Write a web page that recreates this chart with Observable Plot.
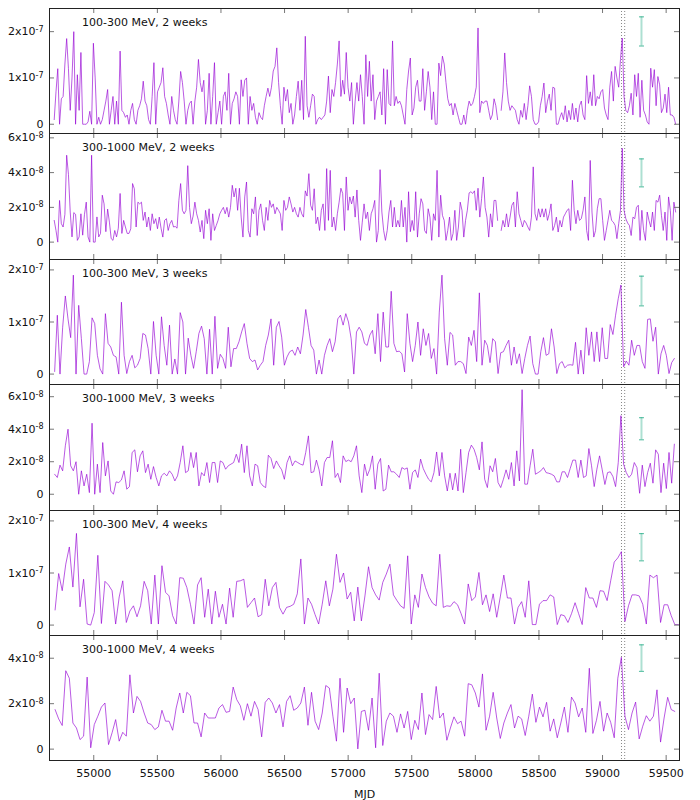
<!DOCTYPE html>
<html><head><meta charset="utf-8">
<script src="https://cdn.jsdelivr.net/npm/d3@7"></script>
<script src="https://cdn.jsdelivr.net/npm/@observablehq/plot@0.6"></script>
<style>
html,body{margin:0;padding:0;background:#fff;}
#chart{width:700px;}
#chart svg{display:block;overflow:visible;background:none;}
</style></head><body><div id="chart"></div>
<script>
// ---- data ----
const labels = ["100-300 MeV, 2 weeks","300-1000 MeV, 2 weeks","100-300 MeV, 3 weeks","300-1000 MeV, 3 weeks","100-300 MeV, 4 weeks","300-1000 MeV, 4 weeks"];
const binStart = [54689, 54689, 54692.5, 54692.5, 54696, 54696]; // MJD of first bin centre
const binDays = [14, 14, 21, 21, 28, 28];
const exponents = [-7, -8, -7, -8, -7, -8]; // flux unit 10^exp
const yTickSets = [[0,1,2],[0,2,4,6],[0,1,2],[0,2,4,6],[0,1,2],[0,2,4]];
const xTicks = [55000,55500,56000,56500,57000,57500,58000,58500,59000,59500];
const markerMJD = [59149, 59174];
const errMJD = 59306;
const errLo = [1.69, 3.18, 1.31, 3.35, 1.234, 3.42];
const errHi = [2.32, 4.79, 1.88, 4.71, 1.757, 4.59];

// flux in units of 1e-7 (100-300 MeV) or 1e-8 (300-1000 MeV); null = no data
const soft2w = [
0.1,0.7,1.2,0,0.55,0.6,1.3,1.85,1.2,0.3, 1.0,2.0,0,1.07,0.3,1.55,0,0,0,0.05,
0.28,0,1.75,1.0,0,0.15,0,0.1,0.3,0.5, 0.75,0,0.3,0.6,0,0.5,0,1.58,0.3,0.25,
0.15,0.2,0,0.3,0.45,0.1,0,0.3,0.4,0.55, 0.93,0.5,0.4,0.1,0,0.6,1.33,0,0.7,0.8,
0.9,1.22,0.6,0.45,0.2,0,0.6,0.3,0.1,0, 0.5,1.14,0.9,0.5,0,0.3,0.45,0.5,0,0.5,
0.8,1.4,0.9,0.7,0.95,0,0.3,1.1,0,0.6, 1.33,0,0.25,0.5,0,0.6,0.7,0.3,1.1,0,
0.45,0.55,0.7,0.6,0,0.96,0.6,0.95,1.0,0, 0.6,0.3,0.45,0.15,0,0.25,0.15,0.1,0.4,0.6,
0.78,0.6,0.8,1.15,1.25,1.65,0.9,0.4,0,0.8, 0.5,0.75,0.25,0.45,0,0.2,0.6,0.93,0.3,0.95,
0.1,1.9,0.4,0.15,0.4,0.65,0.6,0,0.1,0.15, 0.1,0.15,0.2,0.5,1.04,0.25,0.75,0.6,0.9,1.3,
1.8,0.6,0.95,0.65,1.55,0.8,0.5,0.9,0,0.5, 0.9,0.5,
1.07,0.6,0,1.5,0.6,1.36,0.5,1.07,
0.1,0.5,0.6,0.7,0.2,1.2,0,1.18,0.45,0.4, 1.8,0.4,0.6,0.45,0.5,0.4,0.2,0,0.75,1.15,
1.43,0.2,0.35,0.8,0.95,0.5,0.5,1.2,0.3,0.7, 1.14,0.8,0.1,0.7,0,0,1.32,1.05,1.47,1.3,
0.9,0.55,0.4,0.45,0.2,0.45,0.3,0.15,0,0, 0.2,0,0.3,0.5,0.4,0.45,0.6,0.8,2.08,0.25,
0.5,0.45,0.5,0.5,0.3,0.1,0.2,0.55,0.4,0.1, null,0.3,0.7,1.54,0.9,0.5,0.3,0.4,0.35,0.3,
0.1,0,0.3,0.15,0.45,0.1,0.4,0.83,0.6,0.1, 0,0,0.05,0.4,0.6,0.89,0.25,0.5,0.65,0.3,
0.8,0.78,0,0,0.15,0.25,0.1,0.4,0.05,0.3, 0.1,0.45,0.1,0.35,0.05,0.4,0.5,0.2,0.1,1.05,
0.45,0.7,0.4,1.07,0.4,0.6,0.55,0.7,0.75,0.35, 0.2,0.1,0.8,1.14,0.5,1.25,1.0,0.8,1.4,1.86,
0.6,0.3,0.25,0.4,0.67,0.2,1.07,0.6,1.1,0.15, 0.95,0.3,0.2,0.05,0,1.21,0.8,1.18,0.4,1.03,
0.85,0.25,0.35,0.65,0.25,0.8,0.2,0.2,0.15,0];

const hard2w = [
1.25,0.67,0,2.4,1.06,0.87,1.6,5.0,3.9,1.73, 0.3,1.7,1.6,0.1,0.3,1.63,0.4,1.6,2.3,0.3,
0,5.0,0,0,1.45,0.3,0.5,2.7,2.2,0.6, 1.9,1.15,0.2,0.1,0.67,0.3,0.8,2.8,0.5,1.25,
0.87,0.5,0.5,0.77,3.37,3.07,0.87,2.3,2.2,2.3, 1.25,1.73,0.87,1.44,0.67,1.63,1.06,1.35,0.77,1.44,
0.8,0.29,1.25,1.35,0.67,1.06,1.25,0.87,0.9,0.8, 2.4,3.37,1.83,1.63,1.83,4.4,2.0,1.06,1.5,2.3,
1.63,1.25,0.58,1.25,0.2,1.83,1.06,1.92,0.1,1.63, 0.67,0.96,1.25,1.63,1.83,2.0,1.63,2.0,1.44,2.0,
3.27,2.6,3.1,1.83,3.1,1.44,0.29,2.6,3.46,0.67, 0.29,1.92,1.63,2.6,0.38,1.83,2.2,1.25,0.67,2.0,
1.25,2.4,2.0,2.2,1.63,2.0,1.83,1.63,0.67,2.4, 1.83,2.0,2.6,2.2,1.73,2.0,1.63,1.44,2.0,1.63,
1.44,2.95,2.65,3.94,2.12,1.83,3.07,1.06,1.44,0.67, 1.83,2.2,0.67,4.23,1.25,4.13,0.87,1.44,0.67,1.63,
2.3,3.1,2.8,0.67,3.75,1.83,2.6,2.2,2.65,1.44, 3.0,1.25,
0.1,1.15,2.2,1.35,1.73,0.67,1.63,1.92,
2.4,0,0.67,4.17,1.73,0.67,0.1,0.67,1.73,2.4, 0.87,2.0,0.87,1.25,0.87,2.4,0.87,2.0,0,2.9,
0.6,1.25,0.67,2.9,0.29,1.63,2.5,2.2,0.67,0.5, 1.92,1.44,0.1,1.63,1.25,4.13,0.29,2.7,1.54,1.25,
0.1,0.67,1.44,0.1,0.5,1.83,0.1,0.87,2.3,1.83, 0.29,1.25,1.83,2.83,2.9,2.8,2.95,1.83,3.1,1.44,
2.5,3.75,2.0,1.44,0.29,1.63,0.87,2.4,2.4,1.25, null,0.67,1.25,0.87,1.63,0.87,1.44,2.12,2.3,0.87,
2.9,1.63,1.25,0.87,1.25,1.1,0.87,0.67,1.44,4.33, 1.63,1.25,1.92,1.44,1.92,1.44,1.92,1.25,1.63,2.2,
0.67,0.96,1.44,0.58,1.25,0.87,1.44,1.63,1.83,1.92, 0.67,3.56,1.83,1.06,1.83,1.25,1.35,1.83,2.6,0.67,
0.1,4.7,1.73,0.29,0.67,1.92,2.5,2.5,1.25,0.1, 0.67,1.25,1.83,1.25,1.15,0.96,0.2,1.06,1.83,5.4,
1.83,1.35,1.1,0.96,0.38,1.44,1.35,2.0,2.12,0.1, 1.83,0.67,0.1,1.73,1.25,0.87,1.73,0.67,2.4,2.3,
2.7,1.54,0.67,1.73,0.1,2.6,1.83,0.1,2.3,1.73];

const soft3w = [
0.05,1.13,0,0.9,1.5,1.06,0.7,1.9,0,1.32, 0.68,0,0,0.24,1.08,0.97,0.36,0.1,0,1.16,
0.59,0.52,0.36,0.33,0,1.38,0.36,0.01,0.24,0.36, 0.12,0.17,0.3,0.78,0.75,0.49,0,1.01,0.36,0,
1.1,0.55,0.17,0.94,0,0.29,0,1.18,1.0,0, 0.69,0.36,0.11,0.43,0.78,0.92,0.68,0,0.86,0,
1.11,0.11,0.38,0.3,0.11,0.9,0.14,0.49,0.49,0.62, 0.81,0.97,0.59,0.3,0.24,0.27,0.08,0.17,0.24,0.55,
0.75,1.06,0.17,0.9,1.01,0.71,0.17,0.33,0.43,0.46, 0.36,0.52,0.39,0.75,1.24,0.9,0.55,0.46,0,0.27,
0,0.36,0.55,0.68,0.43,0.62,1.06,1.13,0.94,1.16, 1.0,0.68,0,0.81,0.9,
0.81,0.59,0.55,0.75,0.84,0.39,1.16,0.24,1.19,0.52, 0.52,1.59,0.59,0.43,0.44,0.39,0.04,1.16,0.59,0.24,
0.55,1.0,0.36,0.87,0.55,0.78,0.3,0.49,0,1.19, 1.9,0.68,0.17,0.8,0.75,0.17,0.24,0.24,0.2,0.01,
0.71,0.55,0.84,0.24,1.56,0.17,0.65,0.55,0.22,0.68, 0.62,0.01,0.41,0.43,0.55,0.65,0.17,0.52,0.2,0.39,
0.01,0.3,0.55,0.73,0.2,0,0,0.43,0.7,0.36, 0.39,0.87,0.52,0.01,0.2,0.24,0.12,0.17,0.18,0.17,
0.61,0,0.46,0,0.89,0.36,0.81,0.24,0.81,0.24, 0.89,0.3,0.3,0.95,0.76,1.13,1.45,1.71,0.14,0.25,
0.17,0.65,0.36,0.55,0.55,0.24,0.11,1.05,1.06,0.63, 0.9,0,0.39,0.55,0.36,0.01,0.22,0.3];

const hard3w = [
1.23,1.03,1.79,1.44,2.98,4.0,1.75,1.44,2.0,0, 1.44,0.51,1.23,0.1,4.37,0,1.85,0.1,3.18,1.13,
2.05,0.2,0,0.76,0.72,0.88,1.44,0.31,0.47,2.57, 2.73,1.38,2.36,2.67,1.33,1.85,0.92,1.7,1.03,0.51,
1.13,1.29,1.13,1.44,1.23,0.82,1.13,1.95,2.98,1.33, 1.44,2.57,1.64,2.57,0.51,1.33,1.13,1.95,0.72,1.95,
1.95,0.72,2.05,1.95,1.54,1.75,1.85,1.95,2.46,1.95, 3.08,1.33,2.98,1.13,0.51,1.85,1.75,0.72,0.51,0.41,
2.4,2.2,1.58,2.05,1.75,1.5,0.92,1.95,2.36,1.75, 2.05,1.95,1.85,1.79,2.57,3.59,1.33,1.38,2.1,1.5,
0.51,1.95,2.26,2.26,3.29,1.03,1.29,0.72,2.36,2.01, 2.1,2.0,2.36,2.98,
1.13,0.1,1.85,1.13,1.54,2.36,0.31,1.85,2.2,0.2, 0.31,1.79,1.38,1.38,1.23,1.03,1.64,1.54,1.62,0.31,
1.33,1.5,1.03,2.16,1.58,1.23,0.92,0.76,1.33,2.6, 1.13,2.57,1.13,0.2,1.29,0.27,1.29,0.2,2.77,0.1,
1.33,2.57,3.02,2.77,2.26,1.5,3.22,0.92,0.41,1.75, 1.38,2.2,0.72,0.41,0.92,1.5,0.92,1.95,0.51,2.67,
0.82,6.43,0.62,0.62,1.75,2.77,1.23,1.33,1.44,1.64, 1.33,1.29,1.23,1.13,0.76,0.76,1.38,1.38,1.03,1.58,
2.1,2.1,1.03,2.1,1.03,1.13,2.81,1.75,0.47,1.54, 2.36,1.5,0.6,1.33,1.38,1.09,0.47,1.95,4.83,1.85,
1.33,1.03,1.23,1.95,1.64,0.06,1.79,0.47,1.33,1.91, 0.68,2.73,2.46,0.1,1.91,0.35,2.57,0.68,3.08];

const soft4w = [
0.29,0.99,0.66,1.17,1.5,0.73,1.76,0.35,0.88,0.02, 0,0.24,1.34,0.03,0.84,0.77,0.66,0.02,0.54,0.85,
0.05,0.27,0.37,0.16,0.37,0.84,0.66,0.02,0.96,0.02, 1.14,0.63,0.56,0.18,0.02,0.91,0.9,0.72,0.4,0.02,
0.77,0.91,0.15,0.69,0.02,0.65,0.15,0.4,0.02,0.71, 0.15,0.84,0.85,0.88,0.34,0.43,0.52,0.16,0.2,0.88,
0.37,0.72,0.82,0.34,0.21,0.34,0.36,0.4,0.6,1.27, 0.02,0.52,0.4,0.2,0.02,0.4,0.85,0.37,0.69,1.36,
0.82,1.0,0.5,0.63,0.08,0.73,
0.08,0.56,1.12,0.72,0.58,0.48,0.82,0.98,1.17,0.58, 0.47,0.37,0.32,1.33,0.02,0.58,0.34,0.98,0.72,0.54,
0.42,0.37,1.36,0.34,0.37,0.36,0.45,0.39,0.22,0.02, 0.79,0.47,0.54,1.01,0.39,0.58,0.26,0.6,0.15,0.54,
0.96,0.52,0.52,0.02,0.34,0.45,0.15,0.85,0.01,0.01, 0.4,0.47,0.47,0.58,0.54,0.01,0.2,0.18,0.05,0.22,
0.43,0.22,0.01,0.72,0.52,0.52,0.34,0.66,0.65,0.47, 0.85,1.21,1.29,1.41,0.07,0.37,0.58,0.58,0.56,0.4,
0.02,0.96,0.91,0.96,0.05,0.39,0.39,0.18,0.01,0.01];

const hard4w = [
1.74,1.33,1.04,3.45,3.12,1.15,0.93,0.42,0.57,3.17, 0.06,1.08,1.45,1.85,2.03,0.2,0.72,1.3,0.35,0.74,
0.57,3.27,1.59,2.32,2.1,1.59,1.15,1.08,0.86,0.98, 1.71,1.23,1.23,0.83,1.81,2.47,1.59,2.5,2.35,1.15,
1.15,0.54,1.59,1.37,1.37,1.37,1.81,1.96,1.62,1.66, 2.73,2.18,1.91,1.27,2.0,1.45,2.1,1.74,0.54,2.06,
2.25,2.03,1.59,1.96,0.98,2.1,2.35,1.71,1.81,2.03, 2.73,1.05,2.5,1.23,0.86,1.59,2.8,2.69,1.45,0.35,
3.12,0.74,2.69,2.0,2.25,0.01,1.66,
1.71,0.83,2.25,0.06,3.34,0.16,1.23,1.59,1.45,0.74, 1.55,0.93,1.66,0.42,1.27,0.86,2.47,0.64,1.52,1.3,
2.76,1.37,1.59,0.39,0.93,1.42,1.12,1.23,0.57,2.88, 2.83,2.47,1.85,3.31,0.83,1.45,2.5,1.37,0.47,1.15,
1.59,1.96,0.93,1.45,1.33,0.6,1.45,2.42,1.18,1.85, 1.42,2.06,0.79,1.33,0.5,1.15,1.85,0.74,2.29,2.03,
1.42,1.81,0.74,3.56,0.69,1.27,2.1,0.79,1.59,1.18, 0.5,3.12,4.04,1.45,0.86,1.59,2.07,0.45,1.01,1.47,
1.23,1.45,2.61,0.31,1.37,2.28,1.74,1.66];

const series = [soft2w, hard2w, soft3w, hard3w, soft4w, hard4w];

// ---- layout ----
const yDomains = [[-0.2,2.5],[-1,6.25],[-0.2,2.2],[-1,6.75],[-0.2,2.2],[-0.5,5]];
const frameH = [125,126,125,126,125,125];
const xDomain = [54652, 59605];
const ML = 49, MR = 21, FW = 700 - ML - MR;
const LINE = "#9400d3", ERR = "#009e73", TICK = "#777";

const capSymbol = {draw(ctx){ ctx.moveTo(-2.5,0); ctx.lineTo(2.5,0); }};

const root = document.getElementById("chart");
series.forEach((vals, k) => {
  const data = vals.map((v, i) => ({mjd: binStart[k] + i * binDays[k], flux: v}));
  const H = frameH[k];
  const mt = k === 0 ? 8 : 0, mb = k === 5 ? 40 : 0;
  const yt = yTickSets[k], ex = exponents[k];
  const fmt = d => d === 0 ? "0" : `${d}x10|${ex}`;
  const marks = [
    Plot.ruleX(markerMJD, {x: d => d, stroke: "#888", strokeDasharray: "1,2"}),
    Plot.line(data, {x: "mjd", y: "flux", stroke: LINE, strokeWidth: 0.9, strokeOpacity: 0.72}),
    Plot.ruleX([0], {x: () => errMJD, y1: () => errLo[k], y2: () => errHi[k], stroke: ERR, strokeWidth: 2, strokeOpacity: 0.32}),
    Plot.dot([errLo[k], errHi[k]], {x: () => errMJD, y: d => d, symbol: capSymbol, stroke: ERR, strokeWidth: 1.2, strokeOpacity: 0.6, fill: "none"}),
    Plot.tickY(yt, {y: d => d, insetRight: FW - 5, stroke: TICK}),
    Plot.tickY(yt, {y: d => d, insetLeft: FW - 5, stroke: TICK}),
    Plot.tickX(xTicks, {x: d => d, insetBottom: H - 5, stroke: TICK}),
    Plot.tickX(xTicks, {x: d => d, insetTop: H - 5, stroke: TICK}),
    Plot.frame({stroke: "#222"}),
    Plot.text(yt, {y: d => d, text: fmt, frameAnchor: "left", textAnchor: "end", dx: -6, fontSize: 11, fill: "#111"}),
    Plot.text([labels[k]], {frameAnchor: "top-left", textAnchor: "start", lineAnchor: "bottom", dx: 32.5, dy: 17.5, fontSize: 11, fill: "#111"})
  ];
  if (k === 5) {
    marks.push(Plot.text(xTicks, {x: d => d, text: d => String(d), frameAnchor: "bottom", lineAnchor: "top", dy: 9, fontSize: 11, fill: "#111"}));
    marks.push(Plot.text(["MJD"], {frameAnchor: "bottom", lineAnchor: "bottom", dy: 37, fontSize: 11, fill: "#111"}));
  }
  const svg = Plot.plot({
    width: 700, height: H + mt + mb,
    marginLeft: ML, marginRight: MR, marginTop: mt, marginBottom: mb,
    style: {fontFamily: "DejaVu Sans", fontSize: "11px", background: "none", overflow: "visible"},
    x: {domain: xDomain, axis: null},
    y: {domain: yDomains[k], axis: null},
    marks
  });
  svg.querySelectorAll("text").forEach(t => {
    const s = t.textContent;
    if (s.includes("|")) {
      const [a, b] = s.split("|");
      t.textContent = a;
      const ts = document.createElementNS("http://www.w3.org/2000/svg", "tspan");
      ts.setAttribute("dy", "-0.45em");
      ts.setAttribute("font-size", "8");
      ts.textContent = b;
      t.appendChild(ts);
    }
  });
  root.appendChild(svg);
});
</script></body></html>
